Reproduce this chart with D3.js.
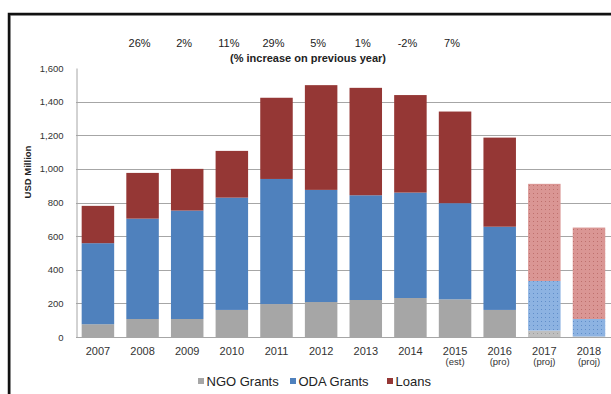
<!DOCTYPE html>
<html>
<head>
<meta charset="utf-8">
<script src="https://cdn.jsdelivr.net/npm/d3@7/dist/d3.min.js"></script>
<style>
  html, body { margin: 0; padding: 0; background: #fff; }
  svg { display: block; font-family: "Liberation Sans", Arial, sans-serif; }
</style>
</head>
<body>
<svg id="chart" width="611" height="394"></svg>
<script>
// Financing flows, USD million
const years      = ["2007","2008","2009","2010","2011","2012","2013","2014","2015","2016","2017","2018"];
const yearNotes  = ["","","","","","","","","(est)","(pro)","(proj)","(proj)"];
const ngoGrants  = [76, 107, 107, 161, 196, 208, 220, 232, 224, 161, 38, 3];
const odaGrants  = [482, 597, 645, 668, 744, 667, 623, 627, 572, 495, 295, 104];
const loans      = [222, 272, 248, 278, 483, 623, 639, 580, 545, 530, 578, 544];
const projectedYears = ["2017", "2018"];

const growthYears  = ["2008","2009","2010","2011","2012","2013","2014","2015"];
const growthLabels = ["26%","2%","11%","29%","5%","1%","-2%","7%"];

const yTicks = [0, 200, 400, 600, 800, 1000, 1200, 1400, 1600];

const seriesKeys   = ["NGO Grants", "ODA Grants", "Loans"];
const seriesColors = ["#a6a6a6", "#4f81bd", "#953735"];
const projColors   = ["#bfbfbf", "#8db3e2", "#da9694"];
const projDots     = ["#8c8c8c", "#4f7fc0", "#b35f5d"];

const rows = years.map((yr, i) => ({
  year: yr,
  "NGO Grants": ngoGrants[i],
  "ODA Grants": odaGrants[i],
  "Loans": loans[i]
}));

const svg = d3.select("#chart");

// dotted fills for projected years
const defs = svg.append("defs");
seriesKeys.forEach((k, i) => {
  const p = defs.append("pattern")
    .attr("id", "proj" + i)
    .attr("patternUnits", "userSpaceOnUse")
    .attr("width", 4).attr("height", 4);
  p.append("rect").attr("width", 4).attr("height", 4).attr("fill", projColors[i]);
  p.append("rect").attr("x", 1).attr("y", 1).attr("width", 1).attr("height", 1)
    .attr("fill", projDots[i]).attr("opacity", 0.7);
});

const x = d3.scaleBand()
  .domain(years)
  .range([75.6, 611.3])
  .paddingInner(0.272)
  .paddingOuter(0.136);

const y = d3.scaleLinear().domain([0, 1600]).range([337, 68]);

// gridlines
svg.append("g")
  .selectAll("line")
  .data(yTicks.filter(t => t > 0 && t < 1600))
  .join("line")
  .attr("x1", 76).attr("x2", 611)
  .attr("y1", d => Math.round(y(d)) + 0.5).attr("y2", d => Math.round(y(d)) + 0.5)
  .attr("stroke", "#a6a6a6").attr("stroke-width", 1);

// stacked bars
const stack = d3.stack().keys(seriesKeys)(rows);
svg.append("g")
  .selectAll("g")
  .data(stack)
  .join("g")
  .each(function(layer, li) {
    d3.select(this).selectAll("rect")
      .data(layer)
      .join("rect")
      .attr("x", d => x(d.data.year))
      .attr("width", x.bandwidth())
      .attr("y", d => y(d[1]))
      .attr("height", d => y(d[0]) - y(d[1]))
      .attr("fill", d => projectedYears.includes(d.data.year) ? `url(#proj${li})` : seriesColors[li]);
  });

// axes
const yAxis = d3.axisLeft(y).tickValues(yTicks).tickSize(0).tickPadding(13)
  .tickFormat(d3.format(","));
const gy = svg.append("g").attr("transform", "translate(76.5,0)").call(yAxis);
gy.select(".domain").attr("stroke", "#a6a6a6");
gy.selectAll("text").attr("font-size", 9.5).attr("fill", "#333");

svg.append("line")
  .attr("x1", 76).attr("x2", 611)
  .attr("y1", y(0) + 0.5).attr("y2", y(0) + 0.5)
  .attr("stroke", "#a6a6a6");

const xAxis = d3.axisBottom(x).tickSize(0).tickPadding(10);
const gx = svg.append("g").attr("transform", `translate(0,${y(0)})`).call(xAxis);
gx.select(".domain").remove();
gx.selectAll("text").attr("font-size", 11).attr("fill", "#333");
gx.selectAll(".tick")
  .append("text")
  .attr("y", 28)
  .attr("font-size", 9.5)
  .attr("fill", "#333")
  .attr("text-anchor", "middle")
  .text((d, i) => yearNotes[i]);

// y axis title
svg.append("text")
  .attr("transform", "translate(31,172) rotate(-90)")
  .attr("text-anchor", "middle")
  .attr("font-size", 9.5)
  .attr("font-weight", "bold")
  .attr("fill", "#222")
  .text("USD Million");

// year-on-year growth labels
svg.append("g")
  .selectAll("text")
  .data(growthLabels)
  .join("text")
  .attr("x", (d, i) => x(growthYears[i]) + x.bandwidth() / 2 - 3)
  .attr("y", 47)
  .attr("text-anchor", "middle")
  .attr("font-size", 11)
  .attr("fill", "#222")
  .text(d => d);

svg.append("text")
  .attr("x", 308).attr("y", 62)
  .attr("text-anchor", "middle")
  .attr("font-size", 11)
  .attr("font-weight", "bold")
  .attr("fill", "#222")
  .text("(% increase on previous year)");

// legend
const legendX = [198, 290, 387];
const legend = svg.append("g");
seriesKeys.forEach((k, i) => {
  legend.append("rect")
    .attr("x", legendX[i]).attr("y", 378)
    .attr("width", 6).attr("height", 6)
    .attr("fill", seriesColors[i]);
  legend.append("text")
    .attr("x", legendX[i] + 8.5).attr("y", 386)
    .attr("font-size", 13)
    .attr("fill", "#222")
    .text(k);
});

// outer frame
svg.append("rect")
  .attr("x", 10).attr("y", 15)
  .attr("width", 700).attr("height", 500)
  .attr("fill", "none")
  .attr("stroke", "#999").attr("stroke-width", 1.5);
svg.append("rect")
  .attr("x", 9).attr("y", 14)
  .attr("width", 700).attr("height", 500)
  .attr("fill", "none")
  .attr("stroke", "#111").attr("stroke-width", 2.5);
</script>
</body>
</html>
